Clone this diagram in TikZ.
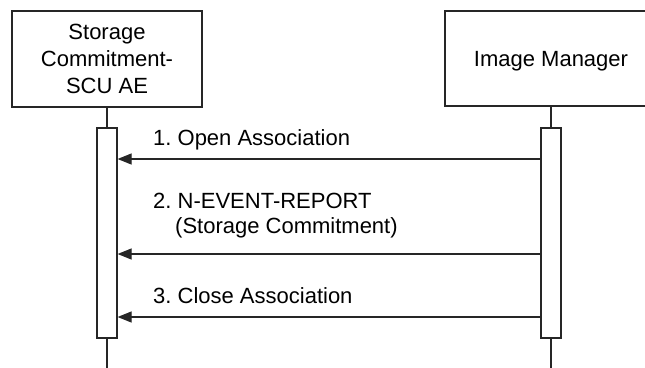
\documentclass[tikz,border=0pt]{standalone}
\usepackage{fontspec}
\setmainfont{Liberation Sans}
\usetikzlibrary{arrows.meta}
\frenchspacing
\begin{document}
\begin{tikzpicture}[x=1pt,y=-1pt,
  ln/.style={line width=1.2pt,draw=black!85},
  actor/.style={ln,rectangle,inner sep=0pt},
  actbox/.style={ln,rectangle,fill=white,minimum width=20pt,minimum height=210pt,inner sep=0pt},
  lbl/.style={font=\fontsize{22}{27}\selectfont,inner sep=0pt,anchor=base west},
  albl/.style={font=\fontsize{22}{27}\selectfont,inner sep=0pt,anchor=base},
  msg/.style={ln,-{Triangle[length=14pt,width=11pt]}}]
\useasboundingbox (0,0) rectangle (645,367);
\clip (0,0) rectangle (645,367);
% actor boxes
\node[actor,minimum width=190pt,minimum height=96pt] (scu) at (107,59) {};
\node[actor,minimum width=212pt,minimum height=95pt] (im) at (551,58.5) {};
\node[albl] (t1) at (107,39) {Storage};
\node[albl] (t2) at (107,66) {Commitment-};
\node[albl] (t3) at (107,93) {SCU AE};
\node[albl] (t4) at (551,66) {Image Manager};
% lifeline ends
\coordinate (scuend) at (107,372);
\coordinate (imend) at (551,372);
\draw[ln] (scu.south) -- (scuend);
\draw[ln] (im.south) -- (imend);
% activation boxes
\node[actbox] (la) at (107,233) {};
\node[actbox] (ra) at (551,233) {};
% messages
\coordinate (r1) at (ra.west |- 0,159);
\coordinate (l1) at (la.east |- 0,159);
\coordinate (r2) at (ra.west |- 0,254);
\coordinate (l2) at (la.east |- 0,254);
\coordinate (r3) at (ra.west |- 0,317);
\coordinate (l3) at (la.east |- 0,317);
\draw[msg] (r1) -- (l1);
\draw[msg] (r2) -- (l2);
\draw[msg] (r3) -- (l3);
\node[lbl] (m1) at (153,145) {1. Open Association};
\node[lbl] (m2a) at (153,208) {2. N-EVENT-REPORT};
\node[lbl] (m2b) at (175,233) {(Storage Commitment)};
\node[lbl] (m3) at (153,303) {3. Close Association};
\end{tikzpicture}
\end{document}
